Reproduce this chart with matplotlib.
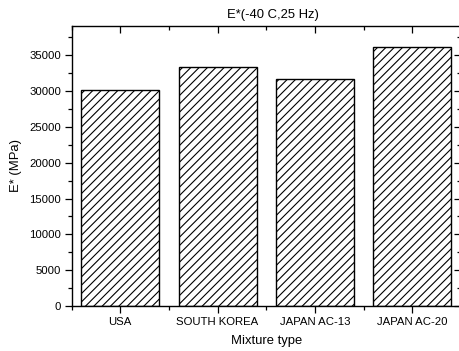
import numpy as np
import matplotlib
matplotlib.use("Agg")
import matplotlib.pyplot as plt
from matplotlib.ticker import MultipleLocator, FixedLocator

# ── Data ─────────────────────────────────────────────────────
mixtures = ["USA", "SOUTH KOREA", "JAPAN AC-13", "JAPAN AC-20"]
modulus = [30100, 33400, 31650, 36200]
y_ticks = [0, 5000, 10000, 15000, 20000, 25000, 30000, 35000]

plt.rcParams["font.family"] = ["Liberation Sans", "DejaVu Sans"]
plt.rcParams["hatch.linewidth"] = 0.8

W, H = 459, 351
fig = plt.figure(figsize=(W / 100, H / 100), dpi=100)
# axes box in pixels: left 71.5, right 461, top 26, bottom 306
ax = fig.add_axes([71.5 / W, 1 - 306 / H, (461 - 71.5) / W, (306 - 26) / H])

x = np.arange(1, len(mixtures) + 1)
ax.bar(x, modulus, width=0.8, color="white", edgecolor="black",
       linewidth=1.0, hatch="////")

ax.set_xlim(0.5, 4.5)
ax.set_ylim(0, 39100)
ax.set_xticks(x)
ax.set_xticklabels(mixtures, fontsize=8.2)
ax.xaxis.set_minor_locator(FixedLocator([0.5, 1.5, 2.5, 3.5, 4.5]))
ax.set_yticks(y_ticks)
ax.yaxis.set_minor_locator(MultipleLocator(2500))
ax.tick_params(axis="y", labelsize=8.2, pad=2.5)
ax.tick_params(axis="x", pad=3)

ax.tick_params(which="major", direction="out", length=5, width=0.9)
ax.tick_params(which="minor", direction="out", length=3, width=0.9)
ax.tick_params(which="both", top=True, right=True)
# mirrored ticks point inward
for t in ax.xaxis.get_ticklines(minor=False)[1::2] + ax.xaxis.get_ticklines(minor=True)[1::2]:
    t.set_marker(3)
for t in ax.yaxis.get_ticklines(minor=False)[1::2] + ax.yaxis.get_ticklines(minor=True)[1::2]:
    t.set_marker(0)

for s in ax.spines.values():
    s.set_linewidth(1.0)

ax.set_xlabel("Mixture type", fontsize=9.4, labelpad=6)
ax.set_ylabel("E* (MPa)", fontsize=9.4, labelpad=5)
fig.text(273 / W, 1 - 15 / H, "E*(-40 C,25 Hz)", fontsize=9.4,
         ha="center", va="center")

fig.savefig("out.png", dpi=100)
